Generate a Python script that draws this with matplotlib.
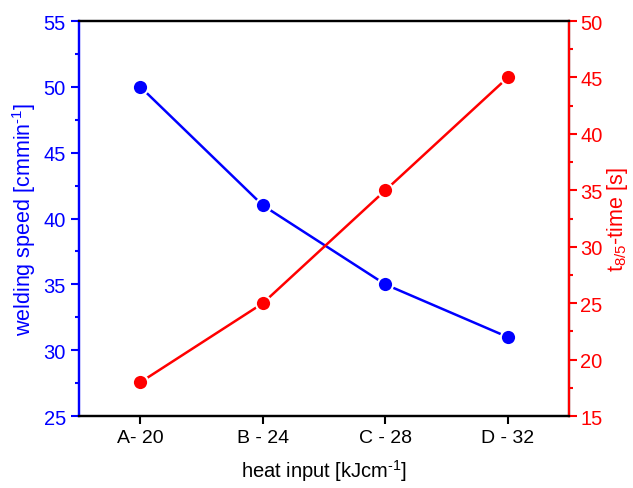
import matplotlib.pyplot as plt
from matplotlib.ticker import MultipleLocator

plt.rcParams['font.family'] = ['Liberation Sans', 'DejaVu Sans']
plt.rcParams['mathtext.fontset'] = 'custom'
plt.rcParams['mathtext.rm'] = 'Liberation Sans'
plt.rcParams['mathtext.it'] = 'Liberation Sans'

# dane
categories = ['A- 20', 'B - 24', 'C - 28', 'D - 32']
welding_speed = [50, 41, 35, 31]
t85_time = [18, 25, 35, 45]

fig, ax1 = plt.subplots(figsize=(6.33, 4.89), dpi=100)
fig.subplots_adjust(left=0.125, right=0.899, top=0.955, bottom=0.147)

x = range(len(categories))
styl = dict(marker='o', markersize=11, markeredgecolor='white', markeredgewidth=1.5, linewidth=1.8)
ax1.plot(x, welding_speed, color='blue', markerfacecolor='blue', **styl)
ax1.set_ylim(25, 55)
ax1.set_xlim(-0.5, 3.5)
ax1.set_xticks(list(x))
ax1.set_xticklabels(categories)
ax1.yaxis.set_major_locator(MultipleLocator(5))
ax1.yaxis.set_minor_locator(MultipleLocator(2.5))
ax1.set_xlabel(r'heat input [kJcm$^{\text{-1}}$]', fontsize=14.5, labelpad=8)
ax1.set_ylabel(r'welding speed [cmmin$^{\text{-1}}$]', fontsize=15.5, color='blue', labelpad=4)
ax1.tick_params(axis='y', colors='blue', labelsize=14.5, direction='out', length=6, width=1.5)
ax1.tick_params(axis='y', which='minor', colors='blue', length=3, width=1.5)
ax1.tick_params(axis='x', labelsize=14, direction='out', length=6, width=1.5)
ax1.spines['left'].set_color('blue')

ax2 = ax1.twinx()
ax2.plot(x, t85_time, color='red', markerfacecolor='red', **styl)
ax2.set_ylim(15, 50)
ax2.yaxis.set_major_locator(MultipleLocator(5))
ax2.yaxis.set_minor_locator(MultipleLocator(2.5))
ax2.set_ylabel(r't$_{\text{8/5}}$-time [s]', fontsize=15.5, color='red', labelpad=2)
ax2.tick_params(axis='y', colors='red', labelsize=14.5, direction='out', length=6, width=1.5, pad=2)
ax2.tick_params(axis='y', which='minor', colors='red', length=3, width=1.5)
ax2.spines['right'].set_color('red')
ax2.spines['left'].set_color('blue')

for ax in (ax1, ax2):
    for s in ax.spines.values():
        s.set_linewidth(1.6)

plt.savefig('out.png', dpi=100)
